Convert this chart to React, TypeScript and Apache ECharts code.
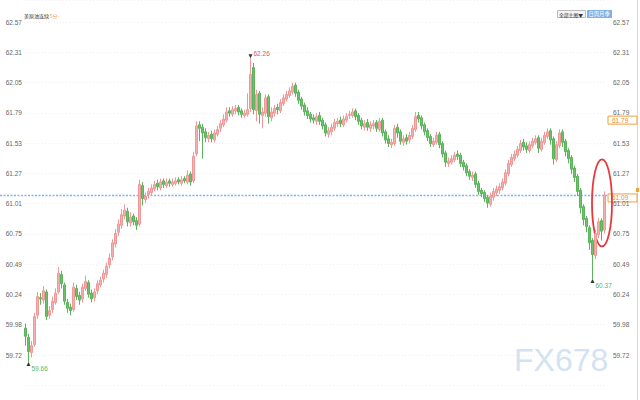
import React, { useEffect, useRef } from "react";
import * as echarts from "echarts";

const yTickLabels = ["59.72", "59.98", "60.24", "60.49", "60.75", "61.01", "61.27", "61.53", "61.79", "62.05", "62.31", "62.57"];
const priceMin = 59.72;
const priceMax = 62.57;
const lastPrice = 61.09;
const markedPrice = 61.79;
const titleText = "美原油连续";
const titleTag = "-5分-";
const menuLabel = "全部主图▼";
const periodLabel = "日周月季";
const watermark = "FX678";

const opens = [
  59.95, 59.87, 59.74, 59.81, 60.06, 60.21, 60.19, 60.26, 60.06, 60.11,
  60.17, 60.26, 60.41, 60.32, 60.17, 60.13, 60.11, 60.29, 60.23, 60.20,
  60.29, 60.34, 60.25, 60.21, 60.27, 60.32, 60.37, 60.41, 60.49, 60.56,
  60.67, 60.77, 60.83, 60.91, 60.95, 60.85, 60.91, 60.87, 60.84, 61.17,
  61.05, 61.09, 61.11, 61.14, 61.19, 61.15, 61.21, 61.17, 61.21, 61.18,
  61.19, 61.22, 61.19, 61.23, 61.20, 61.27, 61.21, 61.44, 61.69, 61.67,
  61.63, 61.57, 61.61, 61.56, 61.61, 61.66, 61.69, 61.73, 61.81, 61.78,
  61.81, 61.84, 61.81, 61.77, 61.78, 61.83, 62.18, 61.81, 61.96, 61.77,
  61.79, 61.93, 61.75, 61.79, 61.84, 61.81, 61.87, 61.91, 61.94, 61.97,
  62.03, 61.97, 61.91, 61.86, 61.81, 61.78, 61.75, 61.72, 61.77, 61.73,
  61.69, 61.61, 61.63, 61.66, 61.70, 61.73, 61.69, 61.73, 61.77, 61.77,
  61.81, 61.77, 61.73, 61.67, 61.71, 61.66, 61.68, 61.71, 61.65, 61.73,
  61.63, 61.57, 61.52, 61.53, 61.67, 61.63, 61.54, 61.58, 61.56, 61.59,
  61.65, 61.77, 61.75, 61.69, 61.64, 61.59, 61.52, 61.54, 61.61, 61.53,
  61.45, 61.36, 61.37, 61.39, 61.44, 61.43, 61.37, 61.34, 61.29, 61.24,
  61.27, 61.19, 61.13, 61.11, 61.07, 61.01, 61.07, 61.11, 61.13, 61.15,
  61.19, 61.27, 61.35, 61.40, 61.43, 61.47, 61.54, 61.51, 61.47, 61.51,
  61.54, 61.58, 61.48, 61.54, 61.59, 61.64, 61.57, 61.39, 61.51, 61.63,
  61.55, 61.47, 61.41, 61.32, 61.25, 61.13, 60.99, 60.89, 60.81, 60.70,
  60.57, 60.75, 60.87, 60.79,
];

const closes = [
  59.88, 59.75, 59.80, 60.05, 60.22, 60.20, 60.27, 60.05, 60.10, 60.18,
  60.25, 60.42, 60.33, 60.18, 60.12, 60.10, 60.30, 60.22, 60.19, 60.30,
  60.35, 60.24, 60.20, 60.26, 60.33, 60.36, 60.42, 60.48, 60.55, 60.68,
  60.76, 60.84, 60.92, 60.96, 60.86, 60.90, 60.86, 60.83, 61.18, 61.06,
  61.08, 61.12, 61.15, 61.18, 61.16, 61.20, 61.18, 61.20, 61.19, 61.20,
  61.21, 61.20, 61.22, 61.21, 61.26, 61.20, 61.42, 61.68, 61.66, 61.62,
  61.58, 61.60, 61.57, 61.62, 61.65, 61.70, 61.74, 61.80, 61.79, 61.82,
  61.83, 61.80, 61.78, 61.79, 61.82, 62.12, 61.82, 61.95, 61.78, 61.80,
  61.92, 61.76, 61.80, 61.83, 61.82, 61.88, 61.92, 61.95, 61.98, 62.02,
  61.96, 61.90, 61.85, 61.80, 61.77, 61.74, 61.73, 61.76, 61.72, 61.68,
  61.62, 61.64, 61.67, 61.71, 61.72, 61.70, 61.74, 61.76, 61.78, 61.80,
  61.76, 61.72, 61.68, 61.70, 61.67, 61.69, 61.70, 61.66, 61.72, 61.62,
  61.56, 61.53, 61.54, 61.66, 61.62, 61.55, 61.57, 61.55, 61.60, 61.66,
  61.76, 61.74, 61.68, 61.63, 61.58, 61.53, 61.55, 61.60, 61.52, 61.44,
  61.37, 61.38, 61.40, 61.43, 61.42, 61.36, 61.33, 61.28, 61.25, 61.26,
  61.18, 61.12, 61.10, 61.06, 61.02, 61.08, 61.12, 61.14, 61.16, 61.20,
  61.28, 61.36, 61.41, 61.44, 61.48, 61.53, 61.50, 61.48, 61.52, 61.55,
  61.57, 61.49, 61.55, 61.60, 61.63, 61.56, 61.40, 61.52, 61.62, 61.54,
  61.46, 61.40, 61.31, 61.24, 61.12, 60.98, 60.88, 60.82, 60.68, 60.58,
  60.76, 60.86, 60.78, 61.09,
];

const highs = [
  59.99, 59.90, 59.84, 60.08, 60.26, 60.25, 60.31, 60.28, 60.14, 60.22,
  60.29, 60.47, 60.44, 60.34, 60.20, 60.16, 60.34, 60.32, 60.26, 60.33,
  60.40, 60.36, 60.28, 60.29, 60.36, 60.39, 60.45, 60.51, 60.59, 60.71,
  60.80, 60.88, 60.97, 61.01, 60.98, 60.94, 60.93, 60.90, 61.22, 61.20,
  61.11, 61.15, 61.18, 61.21, 61.22, 61.23, 61.23, 61.23, 61.23, 61.23,
  61.24, 61.24, 61.25, 61.25, 61.30, 61.29, 61.46, 61.72, 61.72, 61.70,
  61.66, 61.63, 61.64, 61.65, 61.68, 61.73, 61.78, 61.84, 61.84, 61.85,
  61.86, 61.86, 61.83, 61.82, 61.96, 62.26, 62.22, 61.99, 61.98, 61.84,
  61.95, 61.95, 61.84, 61.86, 61.87, 61.91, 61.95, 61.98, 62.01, 62.05,
  62.05, 61.99, 61.93, 61.88, 61.84, 61.80, 61.78, 61.79, 61.80, 61.75,
  61.71, 61.67, 61.70, 61.74, 61.75, 61.76, 61.77, 61.79, 61.81, 61.83,
  61.83, 61.79, 61.75, 61.73, 61.74, 61.72, 61.73, 61.73, 61.75, 61.75,
  61.65, 61.60, 61.57, 61.69, 61.70, 61.65, 61.60, 61.61, 61.63, 61.69,
  61.80, 61.80, 61.77, 61.71, 61.66, 61.61, 61.58, 61.63, 61.63, 61.55,
  61.47, 61.41, 61.43, 61.46, 61.47, 61.45, 61.39, 61.36, 61.31, 61.29,
  61.29, 61.21, 61.15, 61.13, 61.09, 61.11, 61.15, 61.17, 61.19, 61.23,
  61.31, 61.39, 61.44, 61.47, 61.51, 61.56, 61.57, 61.54, 61.55, 61.58,
  61.60, 61.60, 61.58, 61.63, 61.66, 61.66, 61.59, 61.55, 61.65, 61.65,
  61.57, 61.49, 61.43, 61.34, 61.27, 61.15, 61.01, 60.91, 60.83, 60.72,
  60.79, 60.89, 60.89, 61.12,
];

const lows = [
  59.80, 59.66, 59.70, 59.79, 60.03, 60.15, 60.16, 60.02, 60.03, 60.08,
  60.15, 60.24, 60.29, 60.15, 60.08, 60.06, 60.09, 60.19, 60.15, 60.17,
  60.27, 60.21, 60.17, 60.18, 60.24, 60.30, 60.34, 60.38, 60.46, 60.53,
  60.64, 60.74, 60.80, 60.88, 60.82, 60.82, 60.83, 60.79, 60.82, 61.00,
  61.02, 61.06, 61.09, 61.12, 61.13, 61.13, 61.15, 61.15, 61.16, 61.16,
  61.17, 61.18, 61.17, 61.19, 61.18, 61.17, 61.19, 61.42, 61.55, 61.40,
  61.54, 61.54, 61.54, 61.54, 61.59, 61.63, 61.67, 61.71, 61.76, 61.76,
  61.78, 61.77, 61.75, 61.75, 61.76, 61.80, 61.78, 61.72, 61.70, 61.66,
  61.76, 61.70, 61.72, 61.76, 61.78, 61.79, 61.85, 61.89, 61.92, 61.95,
  61.93, 61.87, 61.82, 61.77, 61.74, 61.71, 61.70, 61.69, 61.69, 61.65,
  61.59, 61.58, 61.60, 61.64, 61.67, 61.67, 61.67, 61.71, 61.74, 61.75,
  61.73, 61.69, 61.65, 61.64, 61.64, 61.63, 61.65, 61.63, 61.63, 61.59,
  61.53, 61.50, 61.49, 61.51, 61.58, 61.52, 61.51, 61.52, 61.53, 61.57,
  61.63, 61.71, 61.65, 61.60, 61.55, 61.50, 61.50, 61.52, 61.49, 61.41,
  61.33, 61.33, 61.35, 61.37, 61.39, 61.33, 61.30, 61.25, 61.22, 61.21,
  61.15, 61.09, 61.07, 61.03, 60.98, 60.99, 61.04, 61.08, 61.10, 61.13,
  61.17, 61.25, 61.33, 61.38, 61.41, 61.45, 61.47, 61.45, 61.45, 61.49,
  61.52, 61.45, 61.46, 61.52, 61.57, 61.52, 61.35, 61.37, 61.49, 61.50,
  61.42, 61.36, 61.27, 61.20, 61.08, 60.93, 60.83, 60.77, 60.62, 60.37,
  60.54, 60.72, 60.70, 60.76,
];

export default function App() {
  const ref = useRef<HTMLDivElement>(null);

  useEffect(() => {
    const chart = echarts.init(ref.current as HTMLDivElement, null, { renderer: "svg" });
    const n = closes.length;
    const cats = closes.map((_, i) => String(i));
    const candles = closes.map((c, i) => [opens[i], c, lows[i], highs[i]]);

    const hiVal = Math.max(...highs);
    const hiIdx = highs.indexOf(hiVal);
    const loVal = Math.min(...lows);
    const loIdx = lows.indexOf(loVal);
    const recentLows = lows.slice(n - 20);
    const rLoVal = Math.min(...recentLows);
    const rLoIdx = n - 20 + recentLows.indexOf(rLoVal);

    // labelled ticks sit at y=22 (top) and y=355 (bottom); the plot runs from 0 to 385
    const steps = yTickLabels.length - 1;
    const step = (priceMax - priceMin) / steps;
    const tickTop = 22;
    const tickBottom = 355;
    const pxStep = (tickBottom - tickTop) / steps;
    const topFrac = tickTop / pxStep;

    const labelAxis = (pos: "left" | "right", margin: number) => ({
      type: "value",
      position: pos,
      min: -1,
      max: steps + topFrac,
      interval: 1,
      axisLine: { show: false },
      axisTick: { show: false },
      splitLine: {
        show: pos === "left",
        lineStyle: { color: "#efefef", type: [1, 2], width: 1 },
      },
      axisLabel: {
        margin,
        fontSize: 6.5,
        color: "#666",
        fontFamily: "Arial",
        showMaxLabel: false,
        formatter: (v: number) => {
          const k = Math.round(v);
          return Math.abs(v - k) < 1e-6 ? yTickLabels[k] ?? "" : "";
        },
      },
    });

    const lowPoint = (idx: number, val: number) => ({
      coord: [idx, val],
      value: val.toFixed(2),
      symbol: "triangle",
      symbolSize: [4, 4],
      symbolOffset: [0, 2],
      itemStyle: { color: "#333" },
      label: {
        show: true,
        position: "right",
        distance: 1,
        offset: [0, 4],
        color: "#5cb35c",
        fontSize: 6.5,
        fontFamily: "Arial",
        formatter: "{c}",
      },
    });

    chart.setOption({
      animation: false,
      backgroundColor: "#ffffff",
      grid: { left: 24, right: 34, top: 0, bottom: 400 - (tickBottom + pxStep) },
      xAxis: {
        type: "category",
        data: cats,
        boundaryGap: true,
        axisLine: { show: false },
        axisTick: { show: false },
        axisLabel: { show: false },
        splitLine: { show: false },
      },
      yAxis: [
        {
          type: "value",
          min: priceMin - step,
          max: priceMax + topFrac * step,
          show: false,
          splitLine: { show: false },
        },
        labelAxis("left", 2),
        labelAxis("right", 7),
      ],
      series: [
        {
          type: "candlestick",
          yAxisIndex: 0,
          data: candles,
          barWidth: 2,
          itemStyle: {
            color: "#f5b0b0",
            color0: "#6cc26c",
            borderColor: "#ee9898",
            borderColor0: "#5cb35c",
            borderWidth: 1,
          },
          markPoint: {
            silent: true,
            data: [
              {
                coord: [hiIdx, hiVal],
                value: hiVal.toFixed(2),
                symbol: "triangle",
                symbolSize: [4, 4],
                symbolRotate: 180,
                symbolOffset: [0, -2],
                itemStyle: { color: "#333" },
                label: {
                  show: true,
                  position: "right",
                  distance: 1,
                  offset: [0, -3],
                  color: "#e05555",
                  fontSize: 6.5,
                  fontFamily: "Arial",
                  formatter: "{c}",
                },
              },
              lowPoint(loIdx, loVal),
              lowPoint(rLoIdx, rLoVal),
            ],
          },
        },
      ],
    });

    const [lastX, lastY] = chart.convertToPixel({ xAxisIndex: 0, yAxisIndex: 0 }, [n - 1, lastPrice]) as number[];
    const [, markY] = chart.convertToPixel({ xAxisIndex: 0, yAxisIndex: 0 }, [n - 1, markedPrice]) as number[];
    const lineY = Math.round(lastY) + 0.5;

    const priceBox = (y: number, text: string) => ({
      type: "group",
      children: [
        {
          type: "rect",
          shape: { x: 608, y: y - 4, width: 29, height: 8 },
          style: { fill: "#fff", stroke: "#f0a040", lineWidth: 1 },
        },
        {
          type: "text",
          x: 612,
          y,
          style: { text, fill: "#f08a20", fontSize: 6.5, fontFamily: "Arial", verticalAlign: "middle" },
        },
      ],
    });

    chart.setOption({
      graphic: [
        {
          type: "line",
          shape: { x1: 0, y1: lineY, x2: 607, y2: lineY },
          style: { stroke: "#7db4f5", lineWidth: 1.3, lineDash: [2, 1.5] },
        },
        {
          type: "line",
          shape: { x1: 637.5, y1: 0, x2: 637.5, y2: 400 },
          style: { stroke: "#d8d8d8", lineWidth: 1 },
        },
        {
          type: "rect",
          shape: { x: 636, y: lastY - 7, width: 3, height: 4 },
          style: { fill: "#f0a040" },
        },
        {
          type: "text",
          x: 24,
          y: 15,
          style: { text: titleText, fill: "#333", fontSize: 5, fontFamily: "Noto Sans CJK SC", verticalAlign: "middle" },
        },
        {
          type: "text",
          x: 48,
          y: 15,
          style: { text: titleTag, fill: "#f5a030", fontSize: 5, fontFamily: "Noto Sans CJK SC", verticalAlign: "middle" },
        },
        {
          type: "rect",
          shape: { x: 557.5, y: 10.5, width: 28, height: 7 },
          style: { fill: "#f4f4f4", stroke: "#aaa", lineWidth: 0.8 },
        },
        {
          type: "text",
          x: 559,
          y: 14,
          style: { text: menuLabel, fill: "#333", fontSize: 4.8, fontFamily: "Noto Sans CJK SC", verticalAlign: "middle" },
        },
        {
          type: "rect",
          shape: { x: 587, y: 10, width: 25, height: 8 },
          style: { fill: "#7fb2e5" },
        },
        {
          type: "text",
          x: 588.5,
          y: 14,
          style: { text: periodLabel, fill: "#ffffff", fontSize: 5.3, fontFamily: "Noto Sans CJK SC", verticalAlign: "middle" },
        },
        priceBox(markY + 7, markedPrice.toFixed(2)),
        priceBox(lastY + 3, lastPrice.toFixed(2)),
        {
          type: "ellipse",
          shape: { cx: lastX - 2.5, cy: lastY + 8, rx: 10, ry: 43.5 },
          style: { fill: "none", stroke: "#e8383d", lineWidth: 1.8 },
        },
        {
          type: "text",
          x: 514,
          y: 376,
          style: {
            text: watermark,
            fill: "#d3e3f3",
            fontSize: 32,
            fontFamily: "Liberation Sans",
            verticalAlign: "bottom",
            textShadowColor: "#c9ae95",
            textShadowOffsetX: 1,
            textShadowOffsetY: 1,
            textShadowBlur: 0,
          },
        },
      ],
    });

    return () => chart.dispose();
  }, []);

  return <div ref={ref} style={{ position: "fixed", left: 0, top: 0, width: 640, height: 400 }} />;
}
